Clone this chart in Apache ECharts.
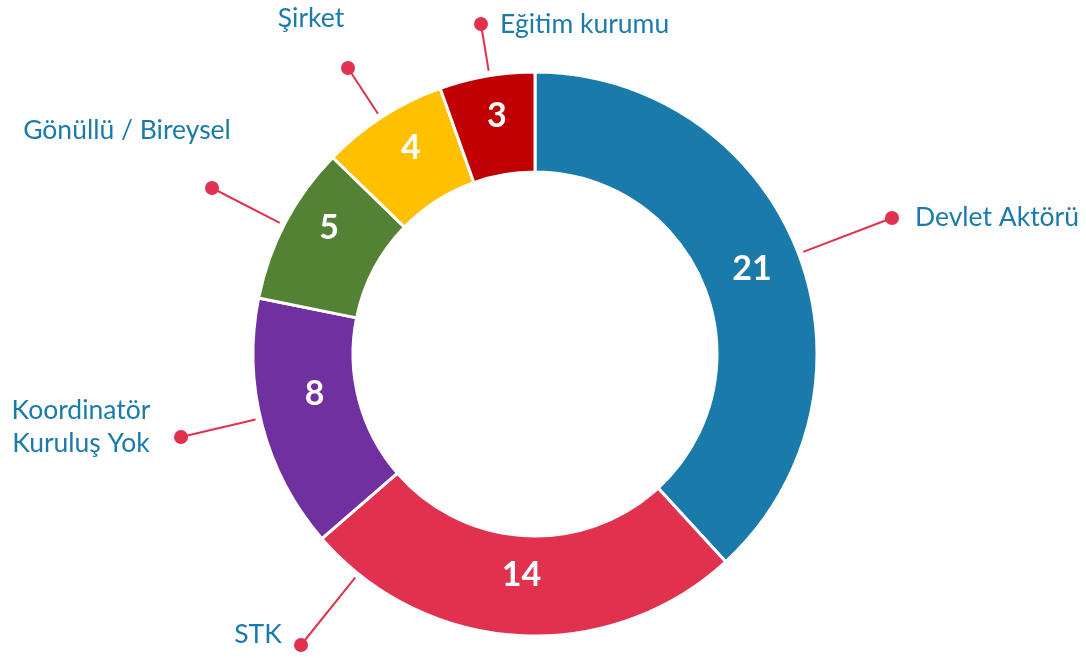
<!DOCTYPE html>
<html>
<head>
<meta charset="utf-8">
<script src="https://cdn.jsdelivr.net/npm/echarts@6/dist/echarts.min.js"></script>
<style>
  html, body { margin: 0; padding: 0; background: #fff; }
  #chart { width: 1086px; height: 658px; }
</style>
</head>
<body>
<div id="chart"></div>
<script>
// data
const categories = ['Devlet Aktörü', 'STK', 'Koordinatör\nKuruluş Yok', 'Gönüllü / Bireysel', 'Şirket', 'Eğitim kurumu']
const values = [21, 14, 8, 5, 4, 3]
const colors = ['#1A7BAB', '#E0314E', '#7030A0', '#548235', '#FFC000', '#C00000']

// layout only: callout dots, names, nudges of the value labels
const dotPos = [[892, 218], [301, 645], [181, 437], [212, 188], [348, 68], [481, 24]]
const namePos = [[915, 217, 'left'], [258, 634, 'center'], [81, 427, 'center'], [127, 130, 'center'], [311, 18, 'center'], [500, 24, 'left']]
const valueShift = [[-2, 0], [0, -14], [7, -20], [2, -16], [3, -8], [2, -6]]

const CX = 535, CY = 354, R0 = 182, R1 = 282

const pieData = categories.map((name, i) => ({ name, value: values[i] }))

const chart = echarts.init(document.getElementById('chart'))

const base = {
  type: 'pie',
  center: [CX, CY],
  radius: [R0, R1],
  startAngle: 90,
  clockwise: true,
  avoidLabelOverlap: false,
  animation: false,
}

// line from just outside the ring, straight to the dot
const calloutLine = (i) => {
  const [x, y] = dotPos[i]
  const dx = x - CX, dy = y - CY
  const len = Math.sqrt(dx * dx + dy * dy)
  const k = (R1 + 5) / len
  return [[CX + dx * k, CY + dy * k], [x, y]]
}

chart.setOption({
  backgroundColor: '#fff',
  series: [
    {
      ...base,
      data: pieData.map((d, i) => ({ ...d, itemStyle: { color: colors[i] } })),
      itemStyle: { borderColor: '#fff', borderWidth: 3 },
      label: {
        show: true,
        position: 'inside',
        formatter: '{c}',
        color: '#fff',
        fontFamily: 'Lato',
        fontWeight: 'bold',
        fontSize: 34,
      },
      labelLine: { show: false },
      labelLayout: (p) => ({ dx: valueShift[p.dataIndex][0], dy: valueShift[p.dataIndex][1] }),
      emphasis: { disabled: true },
    },
    {
      // callout lines with dots
      ...base,
      silent: true,
      data: pieData,
      itemStyle: { color: 'transparent' },
      label: {
        show: true,
        position: 'outside',
        formatter: '{d|}',
        rich: { d: { width: 14, height: 14, borderRadius: 7, backgroundColor: '#E0314E' } },
      },
      labelLine: { show: true, length: 20, length2: 0, lineStyle: { color: '#E0314E', width: 2 } },
      labelLayout: (p) => ({
        x: dotPos[p.dataIndex][0],
        y: dotPos[p.dataIndex][1],
        align: 'center',
        verticalAlign: 'middle',
        labelLinePoints: calloutLine(p.dataIndex),
      }),
      emphasis: { disabled: true },
    },
    {
      // category names
      ...base,
      silent: true,
      data: pieData,
      itemStyle: { color: 'transparent' },
      label: {
        show: true,
        position: 'outside',
        formatter: '{b}',
        color: '#1A7BAB',
        fontFamily: 'Lato',
        fontSize: 26.5,
        lineHeight: 33,
        align: 'center',
      },
      labelLine: { show: false },
      labelLayout: (p) => ({ x: namePos[p.dataIndex][0], y: namePos[p.dataIndex][1], align: namePos[p.dataIndex][2], verticalAlign: 'middle' }),
      emphasis: { disabled: true },
    },
  ],
})
</script>
</body>
</html>
